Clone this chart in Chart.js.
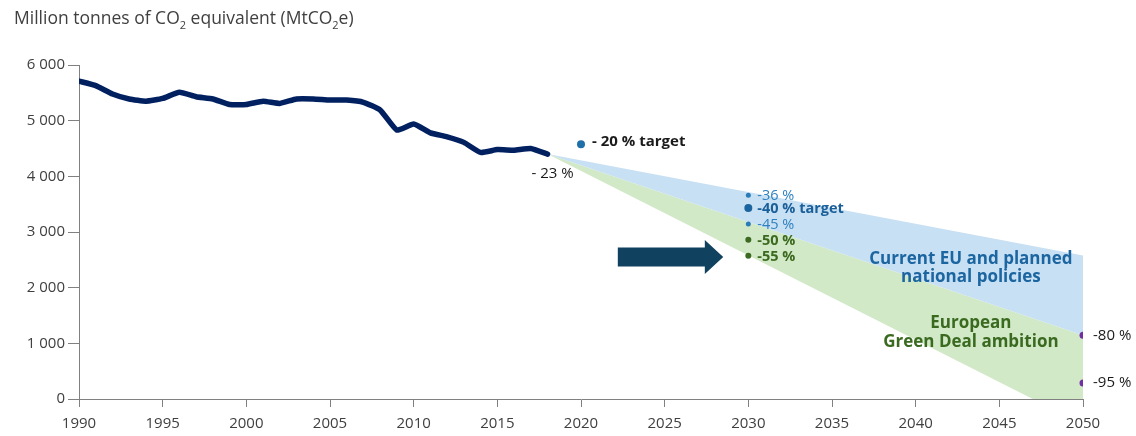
<!DOCTYPE html>
<html><head><meta charset="utf-8">
<script src="https://cdn.jsdelivr.net/npm/chart.js@4"></script>
<style>
html,body{margin:0;padding:0;background:#fff;}
#wrap{position:relative;width:1136px;height:436px;}
#title{position:absolute;left:14px;top:5px;font:17.5px 'Open Sans',sans-serif;color:#404040;white-space:nowrap;}
#title sub{font-size:11px;vertical-align:-5px;line-height:0;}
canvas{position:absolute;left:0;top:0;}
</style></head><body>
<div id="wrap"><canvas id="c" width="1136" height="436"></canvas>
<div id="title">Million tonnes of CO<sub>2</sub> equivalent (MtCO<sub>2</sub>e)</div></div>
<script>
// ---- data ----
const years = [1990,1991,1992,1993,1994,1995,1996,1997,1998,1999,2000,2001,2002,2003,2004,2005,2006,2007,2008,2009,2010,2011,2012,2013,2014,2015,2016,2017,2018];
const emissions = [5710,5630,5480,5390,5350,5400,5510,5430,5390,5290,5290,5350,5310,5390,5390,5370,5370,5330,5190,4830,4940,4780,4710,4610,4430,4480,4470,4500,4400];
const bandYears = [2018,2050];
const currentPolicyTop = [4400,2580];
const greenDealTop = [4400,1144];
const greenDealBottomYears = [2018,2047,2050];
const greenDealBottom = [4400,0,0];
const target2020 = {year:2020, value:4576, label:'- 20 % target'};
const label2018 = '- 23 %';
const pts2030Year = 2030;
const pts2030Values = [3660,3430,3145,2860,2575];
const pts2030Labels = ['-36 %','-40 % target','-45 %','-50 %','-55 %'];
const pts2050Year = 2050;
const pts2050Values = [1144,286];
const pts2050Labels = ['-80 %','-95 %'];
const bandLabels = {current:['Current EU and planned','national policies'], green:['European','Green Deal ambition']};
const xTicks = [1990,1995,2000,2005,2010,2015,2020,2025,2030,2035,2040,2045,2050];
const yTicks = [0,1000,2000,3000,4000,5000,6000];

// ---- styles ----
const FONT = "'Open Sans', sans-serif";
const dot2030Colors = ['#2a7cb8','#1a64a0','#2a7cb8','#3d6a22','#3d6a22'];
const dot2030Radius = [2.5,4,2.5,3,3];
const label2030Style = [
  {color:'#2e80bf', bold:false},
  {color:'#1a5f99', bold:true},
  {color:'#2e80bf', bold:false},
  {color:'#3b6a1f', bold:true},
  {color:'#3b6a1f', bold:true}
];

const fmt = v => v === 0 ? '0' : String(v).replace(/\B(?=(\d{3})+(?!\d))/g, ' ');

const overlay = {
  id:'overlay',
  afterDatasetsDraw(chart){
    const {ctx, scales:{x,y}} = chart;
    ctx.save();
    // arrow (in data units)
    const ax0 = x.getPixelForValue(2022.2), axS = x.getPixelForValue(2027.4), axT = x.getPixelForValue(2028.5);
    const ay = y.getPixelForValue(2550);
    const sh = 9.5, hh = 17;
    ctx.fillStyle = '#10415f';
    ctx.beginPath();
    ctx.moveTo(ax0, ay - sh); ctx.lineTo(axS, ay - sh); ctx.lineTo(axS, ay - hh);
    ctx.lineTo(axT, ay); ctx.lineTo(axS, ay + hh); ctx.lineTo(axS, ay + sh); ctx.lineTo(ax0, ay + sh);
    ctx.closePath(); ctx.fill();

    ctx.textBaseline = 'middle';
    // 2020 target
    ctx.font = `bold 15px ${FONT}`; ctx.fillStyle = '#1a1a1a'; ctx.textAlign = 'left';
    ctx.fillText(target2020.label, x.getPixelForValue(target2020.year) + 11, y.getPixelForValue(target2020.value) - 3);
    // 2018 label
    ctx.font = `15px ${FONT}`; ctx.textAlign = 'center';
    ctx.fillText(label2018, x.getPixelForValue(2018) + 5, y.getPixelForValue(4400) + 20);
    // 2030 labels
    ctx.textAlign = 'left';
    pts2030Labels.forEach((t,i)=>{
      const s = label2030Style[i];
      ctx.font = `${s.bold?'bold ':''}14.5px ${FONT}`; ctx.fillStyle = s.color;
      ctx.fillText(t, x.getPixelForValue(pts2030Year) + 9, y.getPixelForValue(pts2030Values[i]) + 1);
    });
    // 2050 labels
    ctx.font = `15px ${FONT}`; ctx.fillStyle = '#1a1a1a';
    pts2050Labels.forEach((t,i)=>{
      ctx.fillText(t, x.getPixelForValue(pts2050Year) + 10, y.getPixelForValue(pts2050Values[i]));
    });
    // band labels
    ctx.textAlign = 'center';
    ctx.font = `bold 17px ${FONT}`;
    ctx.fillStyle = '#1b65a0';
    const cx = x.getPixelForValue(2043.3);
    ctx.fillText(bandLabels.current[0], cx, y.getPixelForValue(2520));
    ctx.fillText(bandLabels.current[1], cx, y.getPixelForValue(2190));
    ctx.fillStyle = '#3a6a20';
    ctx.fillText(bandLabels.green[0], cx, y.getPixelForValue(1360));
    ctx.fillText(bandLabels.green[1], cx, y.getPixelForValue(1020));
    ctx.restore();
  }
};

new Chart(document.getElementById('c'), {
  type:'scatter',
  data:{
    datasets:[
      {label:'Emissions', type:'line', data: years.map((yr,i)=>({x:yr,y:emissions[i]})), borderColor:'#002060', borderWidth:5.5, pointRadius:0, tension:0.15, fill:false, borderCapStyle:'round', borderJoinStyle:'round'},
      {label:'2020 target', data:[{x:target2020.year,y:target2020.value}], backgroundColor:'#1f6fa8', borderWidth:0, pointRadius:4},
      {label:'2030', data: pts2030Values.map(v=>({x:pts2030Year,y:v})), backgroundColor:dot2030Colors, borderWidth:0, pointRadius:dot2030Radius},
      {label:'2050', data: pts2050Values.map(v=>({x:pts2050Year,y:v})), backgroundColor:'#7030a0', borderWidth:0, pointRadius:3.5},
      {label:'Current policies', type:'line', data: bandYears.map((yr,i)=>({x:yr,y:currentPolicyTop[i]})), borderWidth:0, pointRadius:0, fill:'+1', backgroundColor:'#c8e0f3', tension:0},
      {label:'Green Deal', type:'line', data: bandYears.map((yr,i)=>({x:yr,y:greenDealTop[i]})), borderWidth:0, pointRadius:0, fill:'+1', backgroundColor:'#d2e9c8', tension:0},
      {label:'Green Deal bottom', type:'line', data: greenDealBottomYears.map((yr,i)=>({x:yr,y:greenDealBottom[i]})), borderWidth:0, pointRadius:0, fill:false, tension:0}
    ]
  },
  options:{
    responsive:false, animation:false,
    layout:{padding:{top:65, right:53, left:0, bottom:0}},
    plugins:{legend:{display:false}, tooltip:{enabled:false}},
    scales:{
      x:{type:'linear', min:1990, max:2050,
        afterBuildTicks(s){ s.ticks = xTicks.map(v=>({value:v})); },
        afterFit(s){ s.height = 37; },
        grid:{drawOnChartArea:false, drawTicks:true, tickLength:8, color:'#808080'},
        border:{color:'#808080', width:1},
        ticks:{font:{family:FONT, size:15}, color:'#404040', padding:8, maxRotation:0, autoSkip:false, callback:v=>String(v)}
      },
      y:{min:0, max:6000,
        afterBuildTicks(s){ s.ticks = yTicks.map(v=>({value:v})); },
        afterFit(s){ s.width = 79; },
        grid:{drawOnChartArea:false, drawTicks:true, tickLength:11, color:'#808080'},
        border:{color:'#808080', width:1},
        ticks:{font:{family:FONT, size:15}, color:'#404040', padding:3, callback:v=>fmt(v)}
      }
    }
  },
  plugins:[overlay]
});
</script></body></html>
